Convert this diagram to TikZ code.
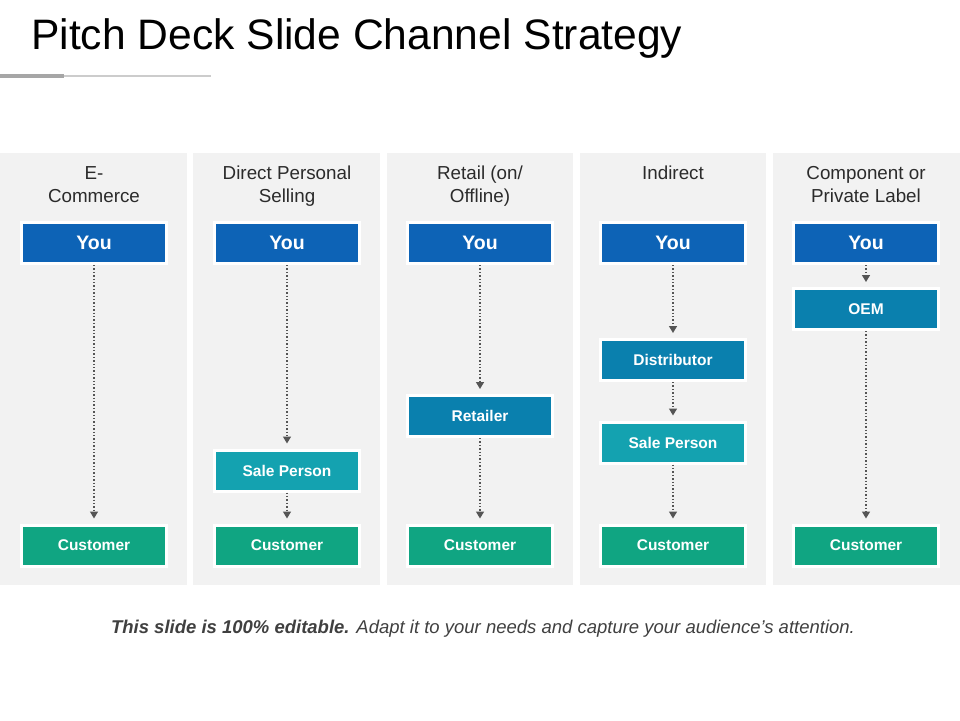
\documentclass[tikz,border=0pt]{standalone}
\usepackage{fontspec}
\setmainfont{Liberation Sans}
\usetikzlibrary{arrows.meta,shadows}
\definecolor{panel}{HTML}{F2F2F2}
\definecolor{youblue}{HTML}{0D63B6}
\definecolor{midblue}{HTML}{0A80AE}
\definecolor{saleteal}{HTML}{14A2B0}
\definecolor{custgreen}{HTML}{10A582}
\definecolor{txt}{HTML}{2B2B2B}
\definecolor{arr}{HTML}{555555}
\tikzset{
  box/.style={draw=white, line width=3pt, minimum width=145pt, minimum height=41pt,
    inner sep=0pt, text=white, font=\bfseries\fontsize{15.5}{18}\selectfont,
    drop shadow={shadow xshift=1.2pt, shadow yshift=-1.2pt, opacity=0.35, fill=black}},
  youbox/.style={box, fill=youblue, font=\bfseries\fontsize{19.5}{22}\selectfont},
  midbox/.style={box, fill=midblue},
  salebox/.style={box, fill=saleteal},
  custbox/.style={box, fill=custgreen},
  hdr/.style={align=center, text=txt, font=\fontsize{18.8}{23}\selectfont, anchor=north, inner sep=0pt},
  flow/.style={draw=arr, line width=1.4pt, dotted, -{Triangle[width=8pt,length=7pt]}, shorten >=5pt}
}
\begin{document}
\begin{tikzpicture}[x=1pt,y=-1pt]
\useasboundingbox[fill=white] (0,0) rectangle (960,720);
% title
\node[anchor=base west, inner sep=0pt, font=\fontsize{42.6}{46}\selectfont, text=black] (title) at (31,49) {Pitch Deck Slide Channel Strategy};
\fill[black!35] (0,73.5) rectangle (64,77.5);
\fill[black!20] (64,74.5) rectangle (211,76.5);
% panels
\fill[panel] (0,153) rectangle (187,585);
\fill[panel] (193,153) rectangle (380,585);
\fill[panel] (387,153) rectangle (573,585);
\fill[panel] (580,153) rectangle (766,585);
\fill[panel] (773,153) rectangle (960,585);
% headers
\node[hdr] (h1) at (94,166) {E-\\Commerce};
\node[hdr] (h2) at (287,166) {Direct Personal\\Selling};
\node[hdr] (h3) at (480,166) {Retail (on/\\Offline)};
\node[hdr] (h4) at (673,166) {Indirect};
\node[hdr] (h5) at (866,166) {Component or\\Private Label};
% column 1
\node[youbox] (y1) at (94,243) {You};
\node[custbox] (c1) at (94,545.5) {Customer};
\draw[flow] (y1.south) -- (c1.north);
% column 2
\node[youbox] (y2) at (287,243) {You};
\node[salebox] (s2) at (287,470.5) {Sale Person};
\node[custbox] (c2) at (287,545.5) {Customer};
\draw[flow] (y2.south) -- (s2.north);
\draw[flow] (s2.south) -- (c2.north);
% column 3
\node[youbox] (y3) at (480,243) {You};
\node[midbox] (r3) at (480,416) {Retailer};
\node[custbox] (c3) at (480,545.5) {Customer};
\draw[flow] (y3.south) -- (r3.north);
\draw[flow] (r3.south) -- (c3.north);
% column 4
\node[youbox] (y4) at (673,243) {You};
\node[midbox] (d4) at (673,360) {Distributor};
\node[salebox] (s4) at (673,442.5) {Sale Person};
\node[custbox] (c4) at (673,545.5) {Customer};
\draw[flow] (y4.south) -- (d4.north);
\draw[flow] (d4.south) -- (s4.north);
\draw[flow] (s4.south) -- (c4.north);
% column 5
\node[youbox] (y5) at (866,243) {You};
\node[midbox] (o5) at (866,309) {OEM};
\node[custbox] (c5) at (866,545.5) {Customer};
\draw[flow] (y5.south) -- (o5.north);
\draw[flow] (o5.south) -- (c5.north);
% footer
\node[text=black!75, inner sep=0pt, font=\itshape\fontsize{18.5}{22}\selectfont] (foot) at (483,629) {\textbf{This slide is 100\% editable.} Adapt it to your needs and capture your audience's attention.};
\end{tikzpicture}
\end{document}
